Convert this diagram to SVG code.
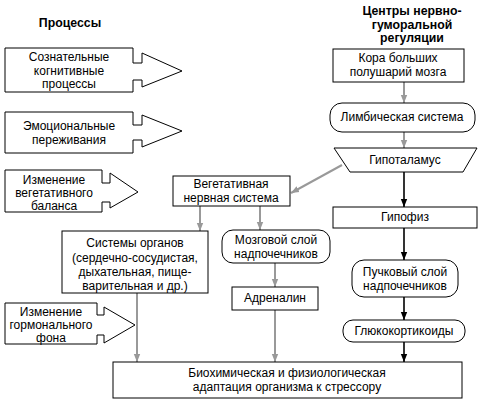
<svg xmlns="http://www.w3.org/2000/svg" width="480" height="402" viewBox="0 0 480 402">
<style>
.b{fill:#fff;stroke:#000;stroke-width:1}
.t{font-family:"Liberation Sans",Arial,sans-serif;font-size:12px;fill:#000;text-anchor:middle}
.h{font-family:"Liberation Sans",Arial,sans-serif;font-size:12.3px;font-weight:bold;fill:#000;text-anchor:middle}
.g{stroke:#999;stroke-width:2;fill:none}
.k{stroke:#000;stroke-width:1.6;fill:none}
</style>
<defs>
<marker id="ag" markerUnits="userSpaceOnUse" markerWidth="8" markerHeight="10" refX="10" refY="4" viewBox="0 0 10 8" orient="auto"><path d="M0,0 L10,4 L0,8 Z" fill="#999"/></marker>
<marker id="ak" markerUnits="userSpaceOnUse" markerWidth="8" markerHeight="10" refX="10" refY="4" viewBox="0 0 10 8" orient="auto"><path d="M0,0 L10,4 L0,8 Z" fill="#000"/></marker>
</defs>
<rect width="480" height="402" fill="#fff"/>
<text class="h" x="70" y="27">Процессы</text>
<g id="header-centers">
<text class="h" x="412" y="15">Центры нервно-</text>
<text class="h" x="412" y="29">гуморальной</text>
<text class="h" x="412" y="42">регуляции</text>
</g>
<g id="p1">
<path class="b" d="M5,48 H133 V63 H142 V53 L182,71 L142,87 V80 H133 V92 H5 Z"/>
<text class="t" x="69" y="61">Сознательные</text>
<text class="t" x="69" y="75">когнитивные</text>
<text class="t" x="69" y="88">процессы</text>
</g>
<g id="p2">
<path class="b" d="M5,112 H133 V125 H142 V115 L182,131 L142,147 V140 H133 V153 H5 Z"/>
<text class="t" x="69" y="130">Эмоциональные</text>
<text class="t" x="69" y="144">переживания</text>
</g>
<g id="p3">
<path class="b" d="M5,170 H102 V183 H110 V173 L138,192 L110,208 V202 H102 V212 H5 Z"/>
<text class="t" x="54" y="184">Изменение</text>
<text class="t" x="54" y="197">вегетативного</text>
<text class="t" x="54" y="210">баланса</text>
</g>
<g id="p4">
<path class="b" d="M5,303 H97 V315 H104 V307 L135,325 L104,343 V335 H97 V344 H5 Z"/>
<text class="t" x="51" y="316">Изменение</text>
<text class="t" x="51" y="329">гормонального</text>
<text class="t" x="51" y="342">фона</text>
</g>
<g id="connectors">
<line class="g" x1="404" y1="82" x2="404" y2="103" marker-end="url(#ag)"/>
<line class="g" x1="404" y1="132" x2="404" y2="148" marker-end="url(#ag)"/>
<line class="g" x1="342" y1="165" x2="291" y2="193" marker-end="url(#ag)"/>
<line class="k" x1="404" y1="172" x2="404" y2="207" marker-end="url(#ak)"/>
<line class="k" x1="404" y1="228" x2="404" y2="260" marker-end="url(#ak)"/>
<line class="k" x1="404" y1="297" x2="404" y2="320" marker-end="url(#ak)"/>
<line class="k" x1="404" y1="342" x2="404" y2="362" marker-end="url(#ak)"/>
<line class="g" x1="200" y1="206" x2="200" y2="231" marker-end="url(#ag)"/>
<line class="g" x1="260" y1="206" x2="260" y2="230" marker-end="url(#ag)"/>
<line class="g" x1="275" y1="263" x2="275" y2="287" marker-end="url(#ag)"/>
<line class="g" x1="275" y1="310" x2="275" y2="362" marker-end="url(#ag)"/>
<line class="g" x1="137" y1="293" x2="137" y2="362" marker-end="url(#ag)"/>
</g>
<g id="kora">
<rect class="b" x="333" y="49" width="131" height="33"/>
<text class="t" x="398" y="62">Кора больших</text>
<text class="t" x="398" y="76">полушарий мозга</text>
</g>
<g id="limbic">
<rect class="b" x="330" y="103" width="145" height="29" rx="12"/>
<text class="t" x="402" y="121">Лимбическая система</text>
</g>
<g id="hypothalamus">
<path class="b" d="M334,148 H477 L463,172 H350 Z"/>
<text class="t" x="405" y="164">Гипоталамус</text>
</g>
<g id="vegetative">
<rect class="b" x="173" y="176" width="117" height="30"/>
<text class="t" x="231" y="188">Вегетативная</text>
<text class="t" x="231" y="202">нервная система</text>
</g>
<g id="hypophysis">
<rect class="b" x="333" y="207" width="144" height="21"/>
<text class="t" x="405" y="221">Гипофиз</text>
</g>
<g id="organs">
<rect class="b" x="62" y="231" width="146" height="62"/>
<text class="t" x="135" y="247">Системы органов</text>
<text class="t" x="135" y="262">(сердечно-сосудистая,</text>
<text class="t" x="135" y="276">дыхательная, пище-</text>
<text class="t" x="135" y="290">варительная и др.)</text>
</g>
<g id="medulla">
<rect class="b" x="222" y="230" width="108" height="33" rx="11"/>
<text class="t" x="276" y="244">Мозговой слой</text>
<text class="t" x="276" y="258">надпочечников</text>
</g>
<g id="fasciculata">
<rect class="b" x="352" y="260" width="106" height="37" rx="12"/>
<text class="t" x="405" y="276">Пучковый слой</text>
<text class="t" x="405" y="290">надпочечников</text>
</g>
<g id="adrenaline">
<rect class="b" x="232" y="287" width="86" height="23"/>
<text class="t" x="275" y="302">Адреналин</text>
</g>
<g id="glucocorticoids">
<rect class="b" x="343" y="320" width="122" height="22" rx="10"/>
<text class="t" x="404" y="335">Глюкокортикоиды</text>
</g>
<g id="adaptation">
<rect class="b" x="113" y="362" width="349" height="36"/>
<text class="t" x="287" y="377">Биохимическая и физиологическая</text>
<text class="t" x="287" y="391">адаптация организма к стрессору</text>
</g>
</svg>
